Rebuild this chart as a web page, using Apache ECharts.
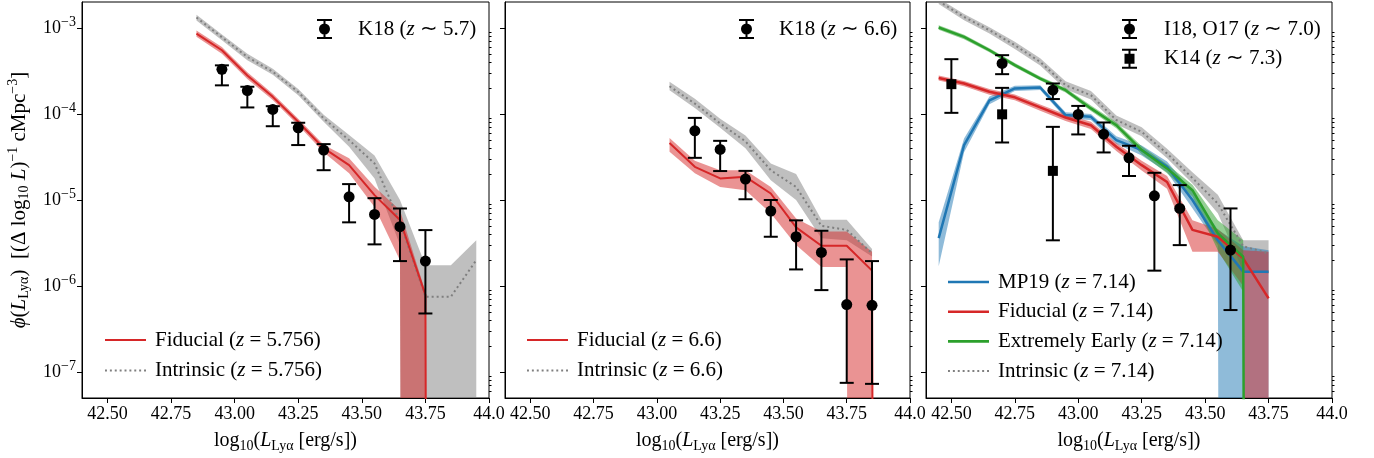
<!DOCTYPE html>
<html>
<head>
<meta charset="utf-8">
<script src="https://cdn.jsdelivr.net/npm/echarts@6/dist/echarts.min.js"></script>
<style>
  html, body { margin: 0; padding: 0; background: #fff; }
  #main { width: 1374px; height: 458px; }
</style>
</head>
<body>
<div id="main"></div>
<script>
// ---- panel 1 (z ~ 5.7) ----
var fid1X = [42.85, 42.95, 43.05, 43.15, 43.25, 43.35, 43.45, 43.55, 43.65, 43.75, 43.85];
var fid1 = [8.6e-4, 5.5e-4, 2.8e-4, 1.58e-4, 8.1e-5, 4.0e-5, 2.54e-5, 1.14e-5, 5.85e-6, 7.9e-7, 0];
var fid1Hi = [9.3e-4, 6.0e-4, 3.05e-4, 1.72e-4, 8.8e-5, 4.4e-5, 3.06e-5, 1.43e-5, 7.6e-6, 8.6e-7, 0];
var fid1Lo = [7.9e-4, 5.0e-4, 2.55e-4, 1.45e-4, 7.4e-5, 3.6e-5, 2.04e-5, 8.3e-6, 2.0e-6, 0, 0];
var int1X = [42.85, 42.95, 43.05, 43.15, 43.25, 43.35, 43.45, 43.55, 43.65, 43.75, 43.85, 43.95];
var int1 = [1.32e-3, 7.8e-4, 4.6e-4, 3.1e-4, 1.8e-4, 8.9e-5, 4.97e-5, 2.66e-5, 5.5e-6, 7.5e-7, 7.5e-7, 2.0e-6];
var int1Hi = [1.42e-3, 8.4e-4, 5.0e-4, 3.35e-4, 1.95e-4, 9.8e-5, 5.7e-5, 3.3e-5, 1.0e-5, 1.75e-6, 1.75e-6, 3.4e-6];
var int1Lo = [1.22e-3, 7.2e-4, 4.2e-4, 2.85e-4, 1.65e-4, 8.1e-5, 4.15e-5, 1.78e-5, 3.0e-6, 0, 0, 0];
var k18aX = [42.95, 43.05, 43.15, 43.25, 43.35, 43.45, 43.55, 43.65, 43.75];
var k18a = [3.3e-4, 1.87e-4, 1.13e-4, 6.9e-5, 3.8e-5, 1.09e-5, 6.8e-6, 4.9e-6, 1.95e-6];
var k18aHi = [3.67e-4, 2.07e-4, 1.23e-4, 7.9e-5, 4.46e-5, 1.53e-5, 1.05e-5, 7.97e-6, 4.47e-6];
var k18aLo = [2.15e-4, 1.19e-4, 7.2e-5, 4.35e-5, 2.22e-5, 5.5e-6, 3.05e-6, 1.95e-6, 4.8e-7];

// ---- panel 2 (z ~ 6.6) ----
var fid2X = [43.05, 43.15, 43.25, 43.35, 43.45, 43.55, 43.65, 43.75, 43.85, 43.95];
var fid2 = [4.6e-5, 2.43e-5, 1.78e-5, 1.86e-5, 1.19e-5, 4.8e-6, 2.94e-6, 2.94e-6, 1.51e-6, 0];
var fid2Hi = [5.25e-5, 2.85e-5, 2.22e-5, 2.22e-5, 1.42e-5, 6.1e-6, 4.3e-6, 4.3e-6, 2.5e-6, 0];
var fid2Lo = [3.63e-5, 2.04e-5, 1.42e-5, 1.3e-5, 7.0e-6, 3.0e-6, 1.67e-6, 1.67e-6, 0, 0];
var int2X = [43.05, 43.15, 43.25, 43.35, 43.45, 43.55, 43.65, 43.75, 43.85];
var int2 = [2.1e-4, 1.32e-4, 7.76e-5, 4.8e-5, 2.22e-5, 1.42e-5, 5.0e-6, 4.5e-6, 2.4e-6];
var int2Hi = [2.36e-4, 1.5e-4, 8.8e-5, 5.6e-5, 2.65e-5, 2.0e-5, 5.9e-6, 5.9e-6, 2.7e-6];
var int2Lo = [1.89e-4, 1.17e-4, 6.9e-5, 4.0e-5, 1.7e-5, 1.0e-5, 3.6e-6, 3.4e-6, 2.2e-6];
var k18bX = [43.15, 43.25, 43.35, 43.45, 43.55, 43.65, 43.75, 43.85];
var k18b = [6.37e-5, 3.87e-5, 1.75e-5, 7.43e-6, 3.74e-6, 2.46e-6, 6.1e-7, 5.97e-7];
var k18bHi = [9.0e-5, 4.87e-5, 2.18e-5, 1.0e-5, 5.8e-6, 4.39e-6, 2.04e-6, 1.95e-6];
var k18bLo = [3.09e-5, 2.17e-5, 1.02e-5, 3.74e-6, 1.56e-6, 8.97e-7, 7.5e-8, 7.3e-8];

// ---- panel 3 (z ~ 7) ----
var p3X = [42.45, 42.55, 42.65, 42.75, 42.85, 42.95, 43.05, 43.15, 43.25, 43.35, 43.45, 43.55, 43.65, 43.75];
var mp19 = [3.6e-6, 4.35e-5, 1.44e-4, 1.98e-4, 2.03e-4, 9.7e-5, 9.25e-5, 4.96e-5, 3.8e-5, 2.43e-5, 1.0e-5, 3.4e-6, 1.47e-6, 1.47e-6];
var mp19Hi = [5.5e-6, 5.2e-5, 1.6e-4, 2.12e-4, 2.15e-4, 1.05e-4, 1.0e-4, 5.5e-5, 4.3e-5, 2.8e-5, 1.25e-5, 4.5e-6, 2.9e-6, 2.6e-6];
var mp19Lo = [1.7e-6, 3.6e-5, 1.3e-4, 1.85e-4, 1.9e-4, 8.9e-5, 8.5e-5, 4.5e-5, 3.3e-5, 2.1e-5, 8.0e-6, 3.0e-6, 0, 0];
var fid3 = [2.62e-4, 2.26e-4, 1.81e-4, 1.56e-4, 1.19e-4, 9.1e-5, 7.4e-5, 4.15e-5, 2.54e-5, 1.62e-5, 4.5e-6, 3.74e-6, 2.1e-6, 7.2e-7];
var fid3Hi = [2.8e-4, 2.42e-4, 1.95e-4, 1.68e-4, 1.29e-4, 9.9e-5, 8.1e-5, 4.6e-5, 2.85e-5, 1.9e-5, 5.8e-6, 4.6e-6, 2.6e-6, 2.5e-6];
var fid3Lo = [2.45e-4, 2.1e-4, 1.67e-4, 1.44e-4, 1.09e-4, 8.3e-5, 6.7e-5, 3.7e-5, 2.2e-5, 1.35e-5, 2.5e-6, 2.5e-6, 1.0e-6, 0];
var ee3 = [1.01e-3, 7.86e-4, 5.5e-4, 3.69e-4, 2.58e-4, 1.89e-4, 1.16e-4, 7.4e-5, 3.8e-5, 2.33e-5, 1.3e-5, 4.1e-6, 2.19e-6, 0];
var ee3Hi = [1.07e-3, 8.3e-4, 5.8e-4, 3.9e-4, 2.73e-4, 2.0e-4, 1.25e-4, 8.0e-5, 4.2e-5, 2.6e-5, 1.5e-5, 5.8e-6, 3.4e-6, 0];
var ee3Lo = [9.5e-4, 7.4e-4, 5.2e-4, 3.5e-4, 2.44e-4, 1.78e-4, 1.08e-4, 6.8e-5, 3.4e-5, 2.05e-5, 1.1e-5, 2.6e-6, 8.6e-7, 0];
var int3 = [2.05e-3, 1.34e-3, 9.4e-4, 6.3e-4, 4.03e-4, 2.16e-4, 1.65e-4, 8.5e-5, 6.2e-5, 3.47e-5, 1.8e-5, 9.1e-6, 2.9e-6, 2.4e-6];
var int3Hi = [2.2e-3, 1.45e-3, 1.02e-3, 6.9e-4, 4.45e-4, 2.4e-4, 1.85e-4, 9.6e-5, 7.0e-5, 3.95e-5, 2.1e-5, 1.15e-5, 3.4e-6, 3.4e-6];
var int3Lo = [1.9e-3, 1.23e-3, 8.6e-4, 5.7e-4, 3.65e-4, 1.94e-4, 1.47e-4, 7.6e-5, 5.5e-5, 3.05e-5, 1.55e-5, 7.0e-6, 1.5e-6, 1.4e-6];
var io3X = [42.7, 42.9, 43.0, 43.1, 43.2, 43.3, 43.4, 43.6];
var io3 = [3.86e-4, 1.89e-4, 9.86e-5, 5.82e-5, 3.09e-5, 1.12e-5, 7.98e-6, 2.62e-6];
var io3Hi = [4.82e-4, 2.26e-4, 1.24e-4, 7.96e-5, 4.27e-5, 2.07e-5, 1.49e-5, 7.98e-6];
var io3Lo = [2.9e-4, 1.49e-4, 5.78e-5, 3.57e-5, 1.9e-5, 1.51e-6, 2.99e-6, 5.26e-7];
var k14X = [42.5, 42.7, 42.9];
var k14 = [2.22e-4, 9.9e-5, 2.18e-5];
var k14Hi = [4.33e-4, 2.01e-4, 7.08e-5];
var k14Lo = [1.03e-4, 4.66e-5, 3.4e-6];

// ---- axes ----
var xTicks = [42.5, 42.75, 43.0, 43.25, 43.5, 43.75, 44.0];
var yTicks = [1e-7, 1e-6, 1e-5, 1e-4, 1e-3];
var yMin = 5.0e-8, yMax = 2.0e-3;
var yMinor = [];
yTicks.concat([1e-8]).forEach(function (d) {
  for (var k = 2; k <= 9; k++) {
    var v = k * d;
    if (v > yMin && v < yMax) yMinor.push(v);
  }
});

var FONT = 'Liberation Serif';
var RED = '#d62728', BLUE = '#1f77b4', GREEN = '#2ca02c', GREY = '#7f7f7f';
var grids = [
  { left: 82, top: 2, width: 407, height: 396 },
  { left: 505, top: 2, width: 405, height: 396 },
  { left: 926, top: 2, width: 406, height: 396 }
];

// zero values on a log axis: push them far below the bottom (matplotlib clips the same way)
function pos(v) { return v > 0 ? v : 1e-100; }
function zip(xs, ys) { return xs.map(function (x, i) { return [x, pos(ys[i])]; }); }

function band(k, xs, lo, hi, color) {
  return {
    type: 'custom', xAxisIndex: k, yAxisIndex: k, clip: true, silent: true, z: 1,
    data: [[xs[0], pos(hi[0])]],
    renderItem: function (params, api) {
      var pts = [];
      xs.forEach(function (x, i) { pts.push(api.coord([x, pos(hi[i])])); });
      for (var i = xs.length - 1; i >= 0; i--) pts.push(api.coord([xs[i], pos(lo[i])]));
      return { type: 'polygon', shape: { points: pts }, style: { fill: color } };
    }
  };
}

function errbars(k, xs, lo, hi) {
  return {
    type: 'custom', xAxisIndex: k, yAxisIndex: k, clip: true, silent: true, z: 5,
    data: xs.map(function (x, i) { return [x, lo[i], hi[i]]; }),
    renderItem: function (params, api) {
      var a = api.coord([api.value(0), api.value(2)]);
      var b = api.coord([api.value(0), api.value(1)]);
      var s = { stroke: '#000', lineWidth: 2 };
      return {
        type: 'group', children: [
          { type: 'line', shape: { x1: a[0], y1: a[1], x2: b[0], y2: b[1] }, style: s },
          { type: 'line', shape: { x1: a[0] - 7, y1: a[1], x2: a[0] + 7, y2: a[1] }, style: s },
          { type: 'line', shape: { x1: b[0] - 7, y1: b[1], x2: b[0] + 7, y2: b[1] }, style: s }
        ]
      };
    }
  };
}

function line(k, name, xs, ys, color, width, dotted) {
  return {
    type: 'line', name: name, xAxisIndex: k, yAxisIndex: k, data: zip(xs, ys),
    symbol: 'none', showSymbol: false, clip: true, z: 3, silent: true,
    lineStyle: { color: color, width: width, type: dotted ? [2, 3] : 'solid', cap: 'butt' },
    itemStyle: { color: color }
  };
}

function points(k, name, xs, ys, symbol, size) {
  return {
    type: 'scatter', name: name, xAxisIndex: k, yAxisIndex: k, data: zip(xs, ys),
    symbol: symbol, symbolSize: size, itemStyle: { color: '#000', opacity: 1 }, z: 6, silent: true
  };
}

var sup = { fontSize: 14, fontFamily: FONT, color: '#000', padding: [0, 0, 12, 0] };
var sub = { fontSize: 14, fontFamily: FONT, color: '#000', padding: [10, 0, 0, 0] };
var ital = { fontSize: 20, fontFamily: FONT, fontStyle: 'italic', color: '#000' };
var ital21 = { fontSize: 21, fontFamily: FONT, fontStyle: 'italic', color: '#000' };

var xAxes = grids.map(function (g, k) {
  return {
    type: 'value', gridIndex: k, min: 42.4, max: 44.0,
    splitLine: { show: false },
    axisLine: { lineStyle: { color: '#000', width: 1 } },
    axisTick: { customValues: xTicks, length: 5, lineStyle: { color: '#000' } },
    axisLabel: {
      customValues: xTicks, color: '#000', fontFamily: FONT, fontSize: 18, margin: 7,
      formatter: function (v) { return v === 44 ? '44.0' : v.toFixed(2); }
    },
    name: 'log{s|10}({i|L}{s|Lyα} [erg/s])', nameLocation: 'middle', nameGap: 31,
    nameTextStyle: { fontFamily: FONT, fontSize: 20, color: '#000', rich: { s: sub, i: ital } }
  };
});

var yAxes = [];
grids.forEach(function (g, k) {
  yAxes.push({
    type: 'log', gridIndex: k, min: yMin, max: yMax,
    splitLine: { show: false },
    axisLine: { show: true, lineStyle: { color: '#000', width: 1 } },
    axisTick: { customValues: yTicks, length: 5, lineStyle: { color: '#000' } },
    axisLabel: {
      show: k === 0, customValues: yTicks, color: '#000', fontFamily: FONT, fontSize: 18, margin: 6,
      formatter: function (v) {
        var e = Math.round(Math.log10(v));
        return '10{p|−' + Math.abs(e) + '}';
      },
      rich: { p: sup }
    },
    name: k === 0 ? '{i|ϕ}({i|L}{s|Lyα})  [(Δ log{s|10} {i|L}){p|−1} cMpc{p|−3}]' : '',
    nameLocation: 'middle', nameGap: 50, nameRotate: 90,
    nameTextStyle: { fontFamily: FONT, fontSize: 21, color: '#000', rich: { s: sub, p: sup, i: ital21 } }
  });
});
grids.forEach(function (g, k) {
  yAxes.push({
    type: 'log', gridIndex: k, min: yMin, max: yMax,
    splitLine: { show: false }, axisLine: { show: false },
    axisTick: { customValues: yMinor, length: 2.5, lineStyle: { color: '#000' } },
    axisLabel: { show: false }
  });
});

// legend handles
var barIcon = 'path://M0,0H15V2H0Z M6.5,0H8.5V20H6.5Z M0,18H15V20H0Z ';
var circIcon = barIcon + 'M2,10A5.5,5.5 0 1,1 13,10A5.5,5.5 0 1,1 2,10Z';
var sqIcon = barIcon + 'M2.5,5H12.5V15H2.5Z';
var lineIcon = 'path://M0,0H41V2H0Z';
var thickIcon = 'path://M0,0H41V2.6H0Z';
var dotIcon = 'path://';
for (var d = 0; d <= 40; d += 5) dotIcon += 'M' + d + ',0H' + (d + 2) + 'V2H' + d + 'Z ';

function legendFmt(n) { return n.replace('(z', '({i|z}'); }
function legend(left, top, items, iconW, iconH, gap, pad) {
  return {
    orient: 'vertical', left: left, top: top, itemWidth: iconW, itemHeight: iconH, itemGap: gap,
    selectedMode: false, data: items, formatter: legendFmt,
    itemStyle: { borderWidth: 0 },
    textStyle: { fontFamily: FONT, fontSize: 21, color: '#000', lineHeight: 22, padding: [0, 0, 0, pad],
      rich: { i: ital21 } }
  };
}

var N1f = 'Fiducial (z = 5.756)', N1i = 'Intrinsic (z = 5.756)', N1d = 'K18 (z ∼ 5.7)';
var N2f = 'Fiducial (z = 6.6)', N2i = 'Intrinsic (z = 6.6)', N2d = 'K18 (z ∼ 6.6)';
var N3m = 'MP19 (z = 7.14)', N3f = 'Fiducial (z = 7.14)', N3e = 'Extremely Early (z = 7.14)',
    N3i = 'Intrinsic (z = 7.14)', N3d = 'I18, O17 (z ∼ 7.0)', N3k = 'K14 (z ∼ 7.3)';

var option = {
  animation: false,
  backgroundColor: '#fff',
  grid: grids.map(function (g) {
    return Object.assign({ show: true, borderColor: '#000', borderWidth: 1, backgroundColor: 'transparent' }, g);
  }),
  xAxis: xAxes,
  yAxis: yAxes,
  legend: [
    legend(100, 324, [{ name: N1f, icon: lineIcon }, { name: N1i, icon: dotIcon }], 41, 14, 8.5, 4),
    legend(312, 13, [{ name: N1d, icon: circIcon }], 15, 20, 8, 21),
    legend(522, 324, [{ name: N2f, icon: lineIcon }, { name: N2i, icon: dotIcon }], 41, 14, 8.5, 4),
    legend(734, 13, [{ name: N2d, icon: circIcon }], 15, 20, 8, 20),
    legend(943, 266, [{ name: N3m, icon: thickIcon }, { name: N3f, icon: thickIcon },
      { name: N3e, icon: thickIcon }, { name: N3i, icon: dotIcon }], 41, 14, 7.7, 4),
    legend(1117, 13, [{ name: N3d, icon: circIcon }, { name: N3k, icon: sqIcon }], 15, 20, 7.8, 22)
  ],
  series: [
    band(0, int1X, int1Lo, int1Hi, 'rgba(127,127,127,0.5)'),
    band(0, fid1X, fid1Lo, fid1Hi, 'rgba(214,39,40,0.5)'),
    line(0, N1i, int1X, int1, GREY, 2, true),
    line(0, N1f, fid1X, fid1, RED, 2, false),
    errbars(0, k18aX, k18aLo, k18aHi),
    points(0, N1d, k18aX, k18a, 'circle', 11),

    band(1, int2X, int2Lo, int2Hi, 'rgba(127,127,127,0.5)'),
    band(1, fid2X, fid2Lo, fid2Hi, 'rgba(214,39,40,0.5)'),
    line(1, N2i, int2X, int2, GREY, 2, true),
    line(1, N2f, fid2X, fid2, RED, 2, false),
    errbars(1, k18bX, k18bLo, k18bHi),
    points(1, N2d, k18bX, k18b, 'circle', 11),

    band(2, p3X, int3Lo, int3Hi, 'rgba(127,127,127,0.5)'),
    band(2, p3X, mp19Lo, mp19Hi, 'rgba(31,119,180,0.5)'),
    band(2, p3X, fid3Lo, fid3Hi, 'rgba(214,39,40,0.5)'),
    band(2, p3X, ee3Lo, ee3Hi, 'rgba(44,160,44,0.5)'),
    line(2, N3i, p3X, int3, GREY, 2, true),
    line(2, N3m, p3X, mp19, BLUE, 2.5, false),
    line(2, N3f, p3X, fid3, RED, 2.5, false),
    line(2, N3e, p3X, ee3, GREEN, 2.5, false),
    errbars(2, io3X, io3Lo, io3Hi),
    errbars(2, k14X, k14Lo, k14Hi),
    points(2, N3d, io3X, io3, 'circle', 11),
    points(2, N3k, k14X, k14, 'rect', 10)
  ]
};

var myChart = echarts.init(document.getElementById('main'), null, { renderer: 'canvas' });
option && myChart.setOption(option);
</script>
</body>
</html>
